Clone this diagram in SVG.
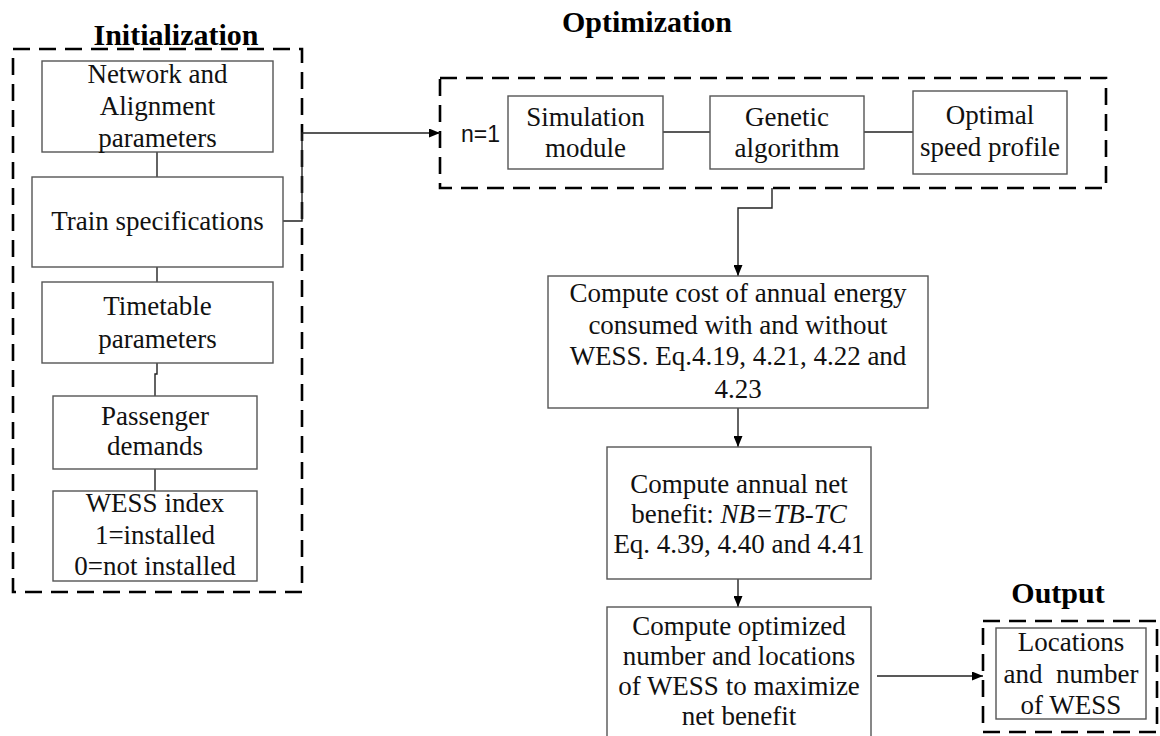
<svg xmlns="http://www.w3.org/2000/svg" width="1160" height="736" viewBox="0 0 1160 736">
<style>
  .bg{fill:#ffffff}
  .box{fill:#ffffff;stroke:#555555;stroke-width:1.4}
  .dash{fill:none;stroke:#000000;stroke-width:2.6;stroke-dasharray:17 9}
  .t{font-family:"Liberation Serif","Times New Roman",serif;font-size:27px;fill:#111111;text-anchor:middle}
  .title{font-family:"Liberation Serif","Times New Roman",serif;font-size:30px;font-weight:bold;fill:#000000;text-anchor:middle}
  .sans{font-family:"Liberation Sans",Arial,sans-serif;font-size:23px;fill:#111111}
  .c{fill:none;stroke:#222222;stroke-width:1.4}
  .i{font-style:italic}
</style>
<defs>
  <marker id="arr" markerUnits="userSpaceOnUse" markerWidth="11" markerHeight="9" refX="11" refY="4.5" orient="auto">
    <path d="M0,0 L11,4.5 L0,9 z" fill="#000000"/>
  </marker>
</defs>
<rect class="bg" x="0" y="0" width="1160" height="736"/>

<g id="group-initialization">
  <rect class="dash" x="13" y="49" width="289" height="543"/>
  <text class="title" x="176" y="45">Initialization</text>
</g>
<g id="group-optimization">
  <rect class="dash" x="440" y="78" width="666" height="110"/>
  <text class="title" x="647" y="32">Optimization</text>
  <text class="sans" x="461" y="142">n=1</text>
</g>
<g id="group-output">
  <rect class="dash" x="983" y="621" width="174" height="111"/>
  <text class="title" x="1058" y="603">Output</text>
</g>

<g id="connectors">
  <path class="c" d="M157,152 V177"/>
  <path class="c" d="M157,267 V282"/>
  <path class="c" d="M157,363 V374 H155 V396"/>
  <path class="c" d="M155,469 V491"/>
  <path class="c" d="M283,221 H302 V133 H440" marker-end="url(#arr)"/>
  <path class="c" d="M663,132 H710"/>
  <path class="c" d="M864,132 H913"/>
  <path class="c" d="M772,188 V208 H738 V276" marker-end="url(#arr)"/>
  <path class="c" d="M738,408 V447" marker-end="url(#arr)"/>
  <path class="c" d="M738,579 V607" marker-end="url(#arr)"/>
  <path class="c" d="M877,676 H983" marker-end="url(#arr)"/>
</g>

<g id="node-network">
  <rect class="box" x="42" y="61" width="231" height="91"/>
  <text class="t" x="157.5" y="83">Network and</text>
  <text class="t" x="157.5" y="115">Alignment</text>
  <text class="t" x="157.5" y="147">parameters</text>
</g>
<g id="node-train">
  <rect class="box" x="32" y="177" width="251" height="90"/>
  <text class="t" x="157.5" y="230">Train specifications</text>
</g>
<g id="node-timetable">
  <rect class="box" x="42" y="282" width="231" height="81"/>
  <text class="t" x="157.5" y="315">Timetable</text>
  <text class="t" x="157.5" y="348">parameters</text>
</g>
<g id="node-passenger">
  <rect class="box" x="53" y="396" width="204" height="73"/>
  <text class="t" x="155" y="425">Passenger</text>
  <text class="t" x="155" y="455">demands</text>
</g>
<g id="node-wess-index">
  <rect class="box" x="53" y="491" width="204" height="90"/>
  <text class="t" x="155" y="512">WESS index</text>
  <text class="t" x="155" y="544">1=installed</text>
  <text class="t" x="155" y="575">0=not installed</text>
</g>

<g id="node-simulation">
  <rect class="box" x="508" y="96" width="155" height="73"/>
  <text class="t" x="585.5" y="126">Simulation</text>
  <text class="t" x="585.5" y="157">module</text>
</g>
<g id="node-genetic">
  <rect class="box" x="710" y="96" width="154" height="73"/>
  <text class="t" x="787" y="126">Genetic</text>
  <text class="t" x="787" y="157">algorithm</text>
</g>
<g id="node-optimal">
  <rect class="box" x="913" y="91" width="154" height="83"/>
  <text class="t" x="990" y="124">Optimal</text>
  <text class="t" x="990" y="156">speed profile</text>
</g>

<g id="node-energy-cost">
  <rect class="box" x="548" y="276" width="380" height="132"/>
  <text class="t" x="738" y="302">Compute cost of annual energy</text>
  <text class="t" x="738" y="334">consumed with and without</text>
  <text class="t" x="738" y="365">WESS. Eq.4.19, 4.21, 4.22 and</text>
  <text class="t" x="738" y="398">4.23</text>
</g>
<g id="node-net-benefit">
  <rect class="box" x="607" y="447" width="264" height="132"/>
  <text class="t" x="739" y="493">Compute annual net</text>
  <text class="t" x="739" y="523">benefit: <tspan class="i">NB=TB-TC</tspan></text>
  <text class="t" x="739" y="553">Eq. 4.39, 4.40 and 4.41</text>
</g>
<g id="node-optimized">
  <rect class="box" x="607" y="607" width="264" height="140"/>
  <text class="t" x="739" y="635">Compute optimized</text>
  <text class="t" x="739" y="665">number and locations</text>
  <text class="t" x="739" y="695">of WESS to maximize</text>
  <text class="t" x="739" y="725">net benefit</text>
</g>
<g id="node-locations">
  <rect class="box" x="996" y="628" width="150" height="91"/>
  <text class="t" x="1071" y="651">Locations</text>
  <text class="t" x="1071" y="683" style="white-space:pre">and  number</text>
  <text class="t" x="1071" y="714">of WESS</text>
</g>
</svg>
